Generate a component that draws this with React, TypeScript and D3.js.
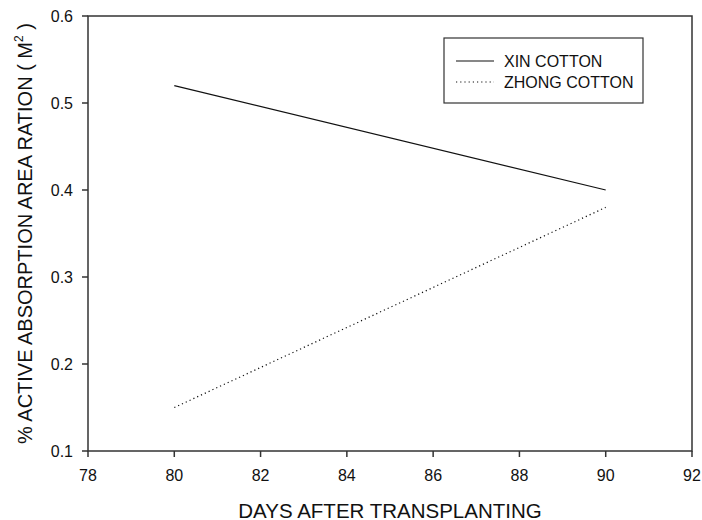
import React from "react";
import * as d3 from "d3";

const days = [80, 90];
const xinCotton = [0.52, 0.40];
const zhongCotton = [0.15, 0.38];
const xTicks = [78, 80, 82, 84, 86, 88, 90, 92];
const yTicks = [0.1, 0.2, 0.3, 0.4, 0.5, 0.6];
const seriesNames = ["XIN COTTON", "ZHONG COTTON"];

const W = 702;
const H = 520;
const left = 88;
const right = 692;
const top = 16;
const bottom = 451;
const font = "'Liberation Sans', Arial, sans-serif";

export default function App() {
  const x = d3.scaleLinear().domain([78, 92]).range([left, right]);
  const y = d3.scaleLinear().domain([0.1, 0.6]).range([bottom, top]);
  const line = d3
    .line<[number, number]>()
    .x((d) => x(d[0]))
    .y((d) => y(d[1]));
  const xinPts = days.map((d, i) => [d, xinCotton[i]] as [number, number]);
  const zhongPts = days.map((d, i) => [d, zhongCotton[i]] as [number, number]);
  const axisColor = "#333";

  return (
    <svg
      width={W}
      height={H}
      style={{ position: "absolute", left: 0, top: 0, background: "#fff" }}
      fontFamily={font}
    >
      <rect x={0} y={0} width={W} height={H} fill="#fff" />
      {/* data lines */}
      <path d={line(xinPts) || ""} fill="none" stroke="#111" strokeWidth={1.2} />
      <path
        d={line(zhongPts) || ""}
        fill="none"
        stroke="#111"
        strokeWidth={1.2}
        strokeDasharray="1.2,3"
      />
      {/* frame */}
      <rect
        x={left}
        y={top}
        width={right - left}
        height={bottom - top}
        fill="none"
        stroke={axisColor}
        strokeWidth={1.5}
      />
      {/* y ticks */}
      {yTicks.map((t) => (
        <g key={"y" + t}>
          <line x1={left - 6} x2={left} y1={y(t)} y2={y(t)} stroke={axisColor} strokeWidth={1.5} />
          <text
            x={left - 15}
            y={y(t)}
            dy="0.36em"
            textAnchor="end"
            fontSize={16}
            fill="#111"
          >
            {d3.format(".1f")(t)}
          </text>
        </g>
      ))}
      {/* x ticks */}
      {xTicks.map((t) => (
        <g key={"x" + t}>
          <line x1={x(t)} x2={x(t)} y1={bottom} y2={bottom + 6} stroke={axisColor} strokeWidth={1.5} />
          <text x={x(t)} y={bottom + 30} textAnchor="middle" fontSize={16} fill="#111">
            {t}
          </text>
        </g>
      ))}
      {/* axis titles */}
      <text
        x={(left + right) / 2}
        y={517.5}
        textAnchor="middle"
        fontSize={20.5}
        fill="#111"
      >
        DAYS AFTER TRANSPLANTING
      </text>
      <text
        transform={`translate(32,${(top + bottom) / 2}) rotate(-90)`}
        textAnchor="middle"
        fontSize={20}
        fill="#111"
      >
        % ACTIVE ABSORPTION AREA RATION ( M
        <tspan fontSize={12} dy={-9}>2</tspan>
        <tspan dy={9}> )</tspan>
      </text>
      {/* legend */}
      <rect x={444} y={38} width={199} height={65} fill="#fff" stroke={axisColor} strokeWidth={1.2} />
      <line x1={456} x2={494} y1={61} y2={61} stroke="#111" strokeWidth={1.2} />
      <line x1={456} x2={494} y1={82} y2={82} stroke="#111" strokeWidth={1.2} strokeDasharray="1.2,3" />
      <text x={504} y={67} fontSize={16} fill="#111">{seriesNames[0]}</text>
      <text x={504} y={88} fontSize={16} fill="#111">{seriesNames[1]}</text>
    </svg>
  );
}
